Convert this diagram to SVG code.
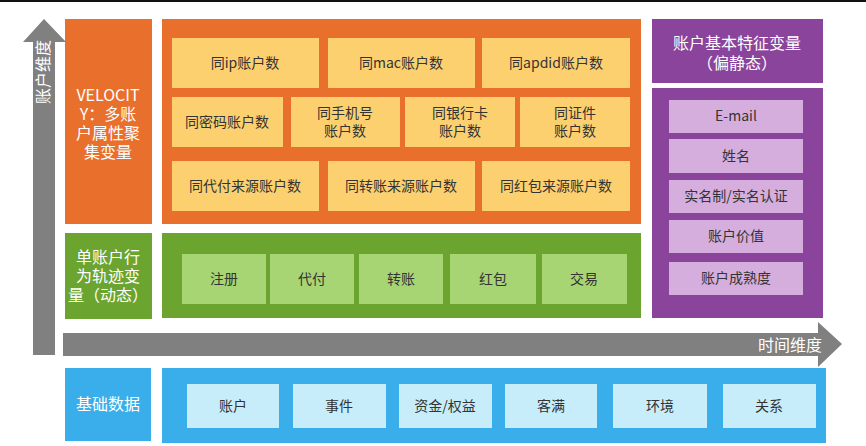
<svg xmlns="http://www.w3.org/2000/svg" width="866" height="446" viewBox="0 0 866 446">
<style>
text{font-family:"Noto Sans CJK SC","Liberation Sans",sans-serif;text-anchor:middle;}
.c{font-size:14px;fill:#333;}
.w{font-size:16px;fill:#fff;}
.or{fill:#E8702C;}
.ye{fill:#FCD06F;}
.pu{fill:#8B449C;}
.lp{fill:#D6AEDD;}
.gr{fill:#6BA42F;}
.lg{fill:#A8D574;}
.bl{fill:#3AAEEA;}
.lb{fill:#C8EDFA;}
.ar{fill:#808080;}
</style>
<rect x="0" y="0" width="866" height="2" fill="#111"/>
<g id="axes">
<polygon class="ar" points="33,355 33,42 23,42 44,19 66,42 55,42 55,355"/>
<text class="w" font-size="15" transform="translate(44,72) rotate(-90)" dy="5">账户维度</text>
<polygon class="ar" points="63,333 818,333 818,322 842,344 818,367 818,356 63,356"/>
<text class="w" x="790" y="351" font-size="15">时间维度</text>
</g>
<g id="velocity">
<rect class="or" x="65" y="19" width="87" height="205"/>
<text class="w"><tspan x="108" y="101">VELOCIT</tspan><tspan x="108" y="120">Y：多账</tspan><tspan x="108" y="139">户属性聚</tspan><tspan x="108" y="158">集变量</tspan></text>
</g>
<g id="velocity-items">
<rect class="or" x="162" y="19" width="479" height="205"/>
<rect class="ye" x="172" y="38" width="147" height="50"/><text class="c" x="245" y="68">同ip账户数</text>
<rect class="ye" x="328" y="38" width="147" height="50"/><text class="c" x="401" y="68">同mac账户数</text>
<rect class="ye" x="482" y="38" width="148" height="50"/><text class="c" x="556" y="68">同apdid账户数</text>
<rect class="ye" x="172" y="97" width="111" height="50"/><text class="c" x="227" y="127">同密码账户数</text>
<rect class="ye" x="291" y="97" width="109" height="50"/><text class="c"><tspan x="345" y="118">同手机号</tspan><tspan x="345" y="136">账户数</tspan></text>
<rect class="ye" x="405" y="97" width="110" height="50"/><text class="c"><tspan x="460" y="118">同银行卡</tspan><tspan x="460" y="136">账户数</tspan></text>
<rect class="ye" x="520" y="97" width="110" height="50"/><text class="c"><tspan x="575" y="118">同证件</tspan><tspan x="575" y="136">账户数</tspan></text>
<rect class="ye" x="172" y="161" width="147" height="50"/><text class="c" x="245" y="191">同代付来源账户数</text>
<rect class="ye" x="328" y="161" width="147" height="50"/><text class="c" x="401" y="191">同转账来源账户数</text>
<rect class="ye" x="482" y="161" width="148" height="50"/><text class="c" x="556" y="191">同红包来源账户数</text>
</g>
<g id="static-title">
<rect class="pu" x="652" y="19" width="171" height="64"/>
<text class="w"><tspan x="737" y="49">账户基本特征变量</tspan><tspan x="737" y="69">（偏静态）</tspan></text>
</g>
<g id="static-items">
<rect class="pu" x="652" y="88" width="171" height="230"/>
<rect class="lp" x="669" y="100" width="134" height="33"/><text class="c" x="736" y="121">E-mail</text>
<rect class="lp" x="669" y="139" width="134" height="34"/><text class="c" x="736" y="161">姓名</text>
<rect class="lp" x="669" y="180" width="134" height="33"/><text class="c" x="736" y="201">实名制/实名认证</text>
<rect class="lp" x="669" y="220" width="134" height="33"/><text class="c" x="736" y="241">账户价值</text>
<rect class="lp" x="669" y="262" width="134" height="33"/><text class="c" x="736" y="283">账户成熟度</text>
</g>
<g id="behavior">
<rect class="gr" x="65" y="233" width="87" height="86"/>
<text class="w"><tspan x="108" y="263">单账户行</tspan><tspan x="108" y="282">为轨迹变</tspan><tspan x="108" y="301">量（动态）</tspan></text>
</g>
<g id="behavior-items">
<rect class="gr" x="162" y="233" width="479" height="85"/>
<rect class="lg" x="182" y="254" width="84" height="50"/><text class="c" x="224" y="284">注册</text>
<rect class="lg" x="270" y="254" width="84" height="50"/><text class="c" x="312" y="284">代付</text>
<rect class="lg" x="359" y="254" width="84" height="50"/><text class="c" x="401" y="284">转账</text>
<rect class="lg" x="450" y="254" width="86" height="50"/><text class="c" x="493" y="284">红包</text>
<rect class="lg" x="542" y="254" width="85" height="50"/><text class="c" x="584" y="284">交易</text>
</g>
<g id="base">
<rect class="bl" x="65" y="368" width="86" height="73"/>
<text class="w" x="108" y="410">基础数据</text>
</g>
<g id="base-items">
<rect class="bl" x="162" y="368" width="664" height="75"/>
<rect class="lb" x="187" y="384" width="92" height="44"/><text class="c" x="233" y="411">账户</text>
<rect class="lb" x="293" y="384" width="93" height="44"/><text class="c" x="339" y="411">事件</text>
<rect class="lb" x="399" y="384" width="93" height="44"/><text class="c" x="445" y="411">资金/权益</text>
<rect class="lb" x="505" y="384" width="92" height="44"/><text class="c" x="551" y="411">客满</text>
<rect class="lb" x="613" y="384" width="94" height="44"/><text class="c" x="660" y="411">环境</text>
<rect class="lb" x="723" y="384" width="93" height="44"/><text class="c" x="769" y="411">关系</text>
</g>
<g id="connectors"></g>
</svg>
